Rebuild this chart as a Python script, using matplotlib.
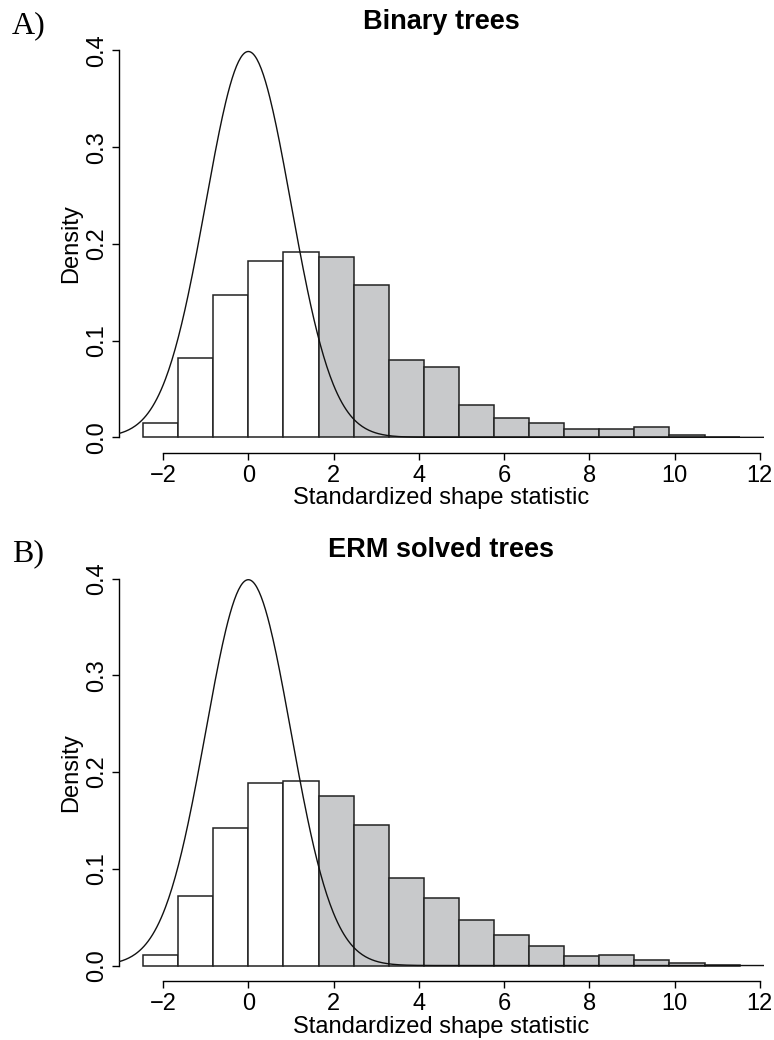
import numpy as np
import matplotlib
matplotlib.use("Agg")
import matplotlib.pyplot as plt

plt.rcParams['font.family'] = ['Liberation Sans', 'DejaVu Sans']

# histogram bin edges (shared by both panels)
bin_edges = [-2.47, -1.647, -0.824, 0.0, 0.824, 1.647, 2.47, 3.294, 4.118,
             4.941, 5.765, 6.588, 7.412, 8.235, 9.059, 9.882, 10.706, 11.53]

# densities
binary_density = [0.0145, 0.0817, 0.147, 0.182, 0.192, 0.1866, 0.157, 0.080,
                  0.0724, 0.0338, 0.0203, 0.0148, 0.0088, 0.0088, 0.011,
                  0.002, 0.0007]
erm_density = [0.0114, 0.0718, 0.1423, 0.1886, 0.1907, 0.1758, 0.1458, 0.0908,
               0.0698, 0.0473, 0.0311, 0.0204, 0.0100, 0.0104, 0.0062,
               0.0024, 0.001]

panel_letters = ["A)", "B)"]
panel_titles = ["Binary trees", "ERM solved trees"]
shade_from = 1.645   # upper 5% of N(0,1)
grey = "#c8c9cb"

W, H = 774, 1040
fig = plt.figure(figsize=(W / 100, H / 100), dpi=100)

def px_axes(left, top, right, bottom):
    return fig.add_axes([left / W, 1 - bottom / H, (right - left) / W, (bottom - top) / H])

axes_px = [(119.2, 35.0, 763.6, 452.8), (119.2, 563.2, 763.6, 981.0)]

for k, (dens, letter, title) in enumerate(zip([binary_density, erm_density], panel_letters, panel_titles)):
    ax = px_axes(*axes_px[k])
    edges = np.array(bin_edges)
    lefts = edges[:-1]
    widths = np.diff(edges)
    colors = [grey if l >= shade_from - 0.01 else "white" for l in lefts]
    ax.bar(lefts, dens, width=widths, align="edge", color=colors,
           edgecolor="#222222", linewidth=1.1, zorder=2)

    pad_x = 0.04 * (edges[-1] - edges[0])
    xlim = (edges[0] - pad_x, edges[-1] + pad_x)
    xs = np.linspace(xlim[0], xlim[1], 600)
    ax.plot(xs, np.exp(-xs ** 2 / 2) / np.sqrt(2 * np.pi), color="#111111", lw=1.0, zorder=3)

    ax.set_xlim(*xlim)
    ax.set_ylim(-0.016, 0.416)
    for s in ["top", "right"]:
        ax.spines[s].set_visible(False)
    ax.spines["left"].set_bounds(0, 0.4)
    ax.spines["bottom"].set_bounds(-2, 12)
    ax.set_xticks(np.arange(-2, 13, 2))
    ax.set_xticklabels(["\u22122"] + [str(v) for v in range(0, 13, 2)])
    ax.set_yticks([0, 0.1, 0.2, 0.3, 0.4])
    ax.set_yticklabels(["0.0", "0.1", "0.2", "0.3", "0.4"], rotation=90, va="center")
    ax.tick_params(axis="x", length=5, width=1.0, labelsize=17, pad=4)
    ax.tick_params(axis="y", length=5, width=1.0, labelsize=17, pad=3)
    for s in ["left", "bottom"]:
        ax.spines[s].set_linewidth(1.0)
    ax.set_xlabel("Standardized shape statistic", fontsize=17, labelpad=0)
    ax.set_ylabel("Density", fontsize=17, labelpad=3)
    ax.text(0.5, 1.031, title, transform=ax.transAxes, fontsize=19.5,
            fontweight="bold", ha="center", va="center")
    ax.text(-0.1664, 1.022, letter, transform=ax.transAxes, fontsize=23,
            family=["Liberation Serif", "DejaVu Serif"], ha="left", va="center")

fig.savefig("out.png", dpi=100)
